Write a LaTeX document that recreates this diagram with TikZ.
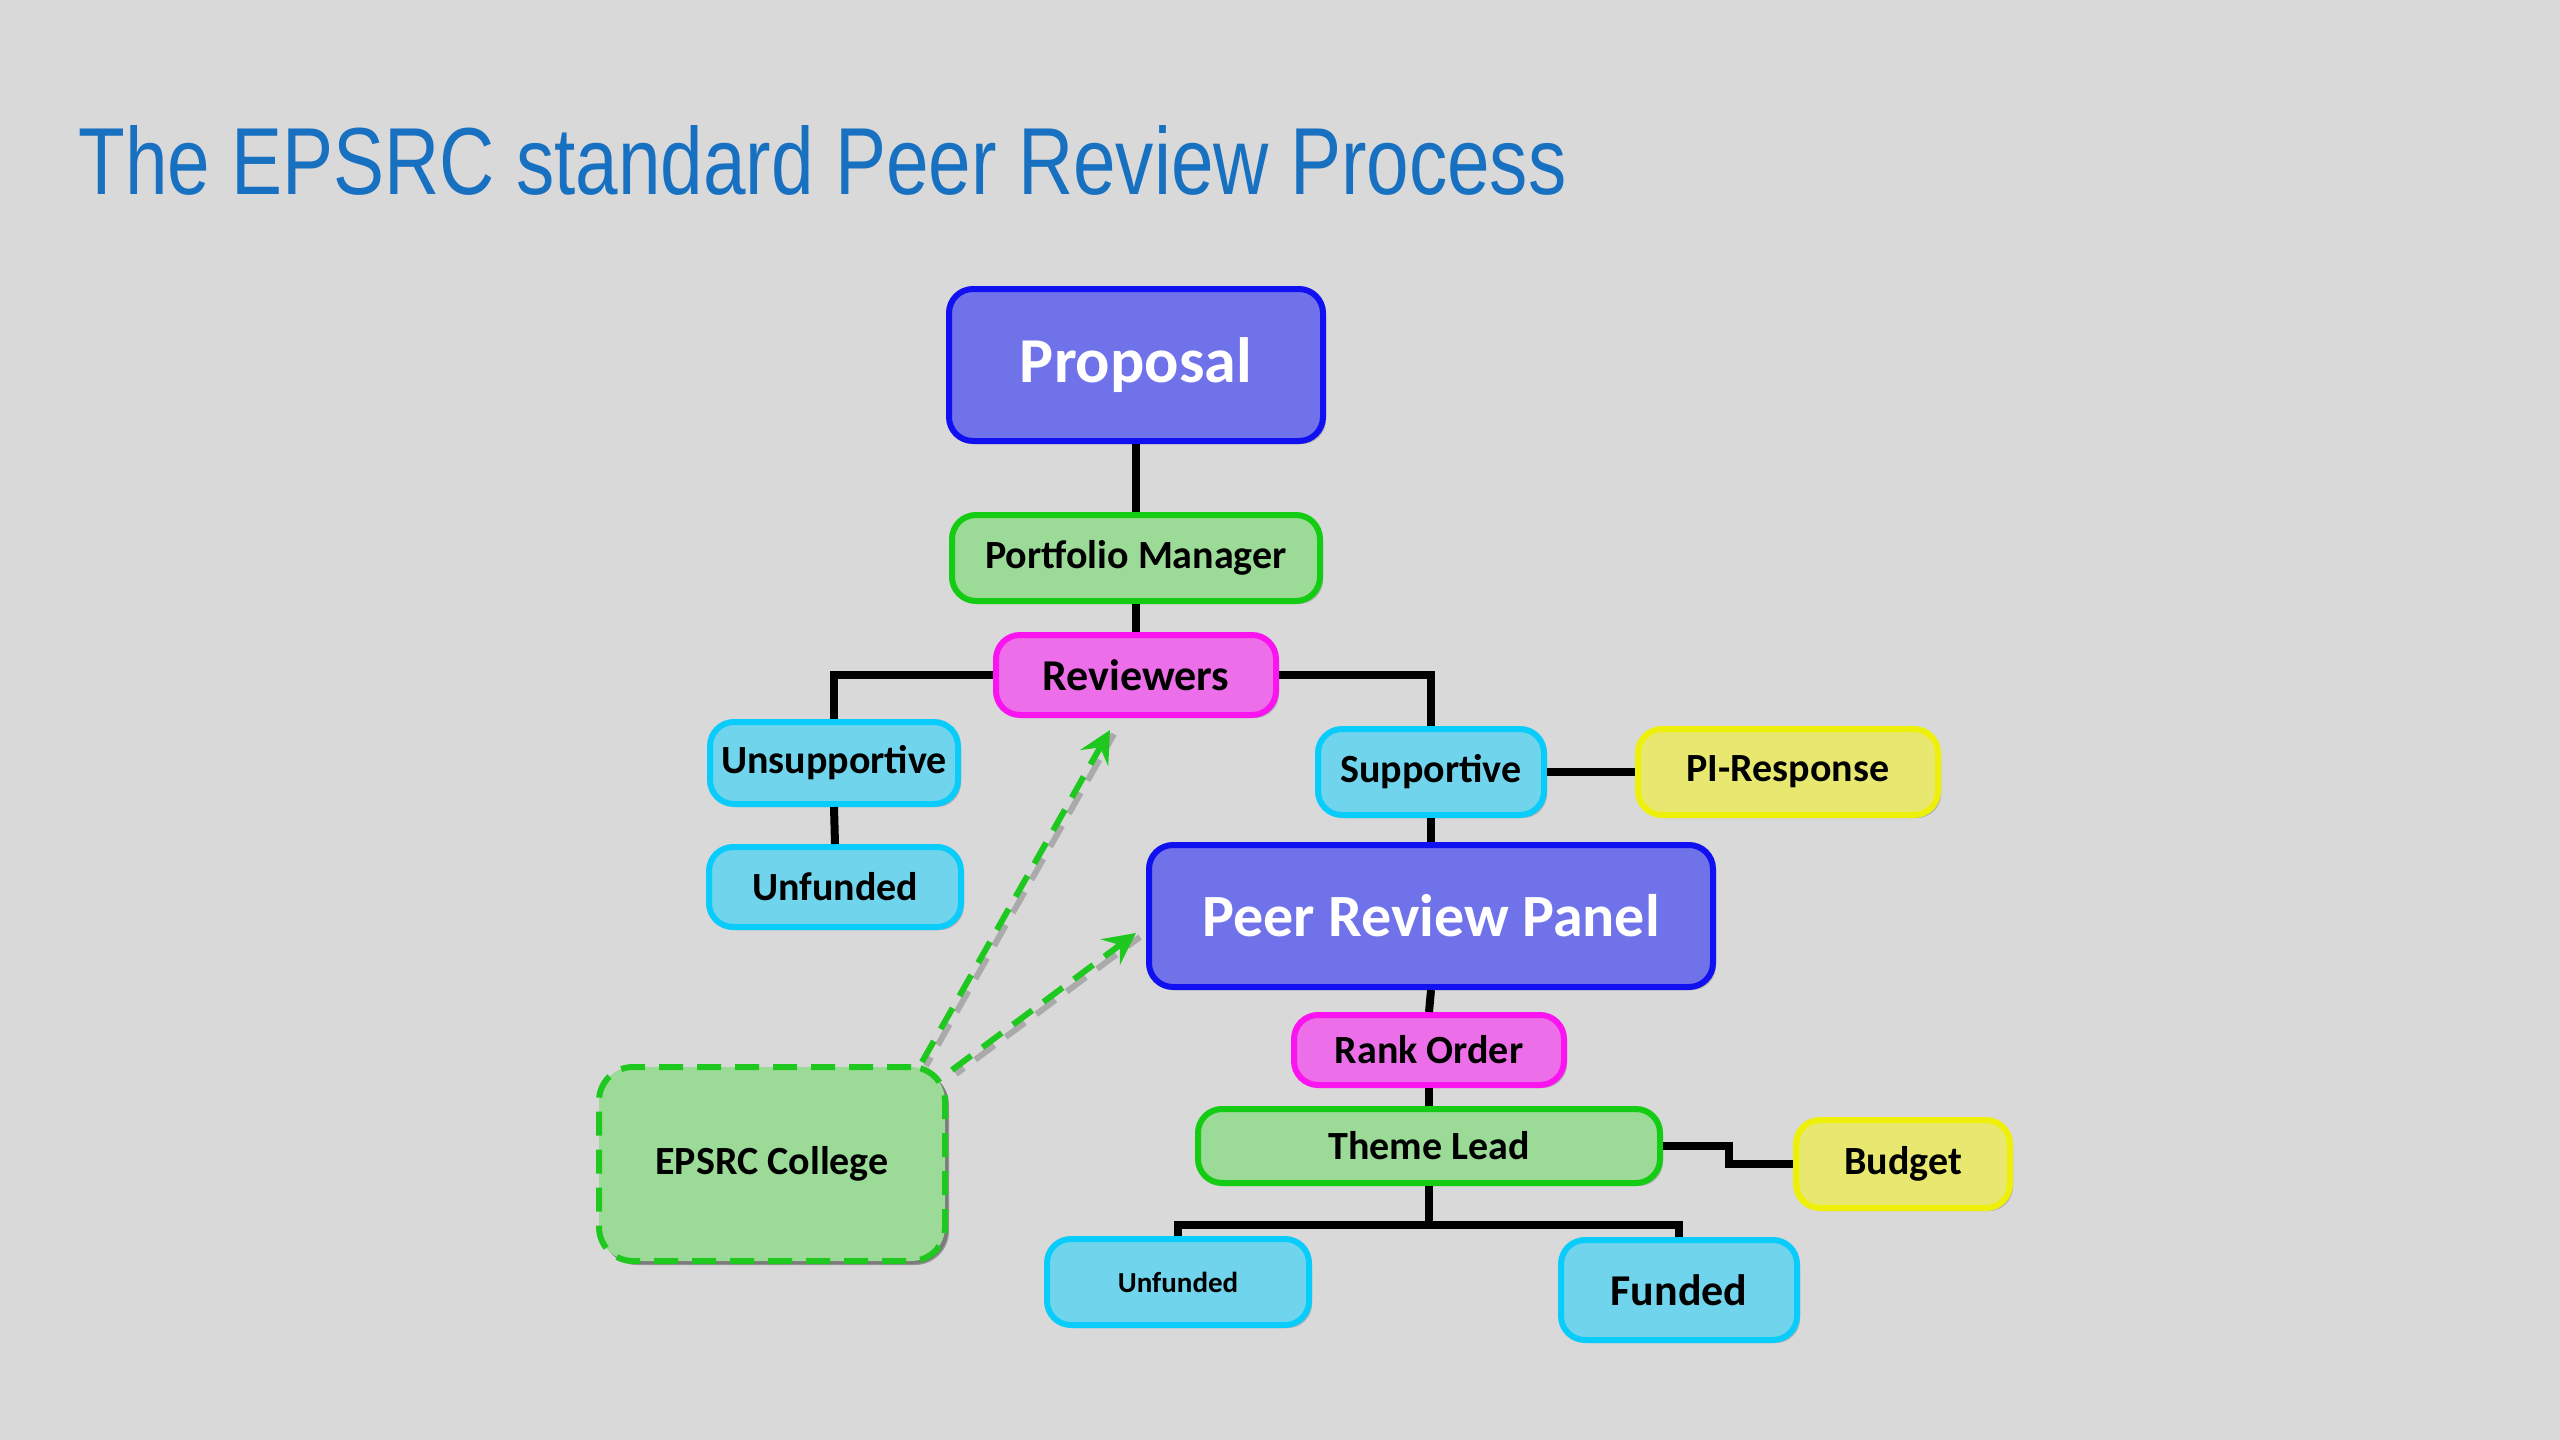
\documentclass[tikz,border=0pt]{standalone}
\usepackage{fontspec}
\setmainfont{Carlito}
\newfontfamily\titlefont{Liberation Sans}
\usetikzlibrary{calc,arrows.meta,shadows}
\definecolor{bg}{RGB}{217,217,217}
\definecolor{titleblue}{RGB}{24,112,192}
\definecolor{pfill}{RGB}{112,114,234}
\definecolor{pline}{RGB}{16,16,240}
\definecolor{gfill}{RGB}{156,218,152}
\definecolor{gline}{RGB}{20,204,20}
\definecolor{mfill}{RGB}{236,110,232}
\definecolor{mline}{RGB}{250,20,240}
\definecolor{cfill}{RGB}{112,212,236}
\definecolor{cline}{RGB}{10,204,250}
\definecolor{yfill}{RGB}{232,232,112}
\definecolor{yline}{RGB}{238,240,10}
\definecolor{dgreen}{RGB}{30,200,30}
\tikzset{
  box/.style={draw, line width=3pt, rounded corners=12pt, inner sep=0pt, align=center,
    font=\bfseries\fontsize{20pt}{24pt}\selectfont,
    drop shadow={shadow xshift=1.5pt, shadow yshift=-1.5pt, opacity=0.18, fill=black}},
  bluebox/.style={box, fill=pfill, draw=pline, text=white},
  greenbox/.style={box, fill=gfill, draw=gline},
  pinkbox/.style={box, fill=mfill, draw=mline},
  cyanbox/.style={box, fill=cfill, draw=cline},
  yellowbox/.style={box, fill=yfill, draw=yline},
  conn/.style={line width=4pt, black},
  dasharrow/.style={line width=3pt, dgreen, dash pattern=on 12pt off 7pt,
    -{Stealth[length=16pt, width=16pt, inset=6pt]}},
  dashshadow/.style={line width=3pt, black!45, opacity=0.6, dash pattern=on 12pt off 7pt, dash phase=7pt}
}
\begin{document}
\begin{tikzpicture}[x=0.5pt, y=-0.5pt]
\useasboundingbox (0,0) rectangle (2560,1440);
\fill[bg] (0,0) rectangle (2560,1440);

\node[anchor=base west, inner sep=0pt, text=titleblue] (title) at (78,194)
  {\resizebox{744pt}{34.5pt}{\titlefont The EPSRC standard Peer Review Process}};

% nodes
\node[bluebox, minimum width=187pt, minimum height=76pt, font=\bfseries\fontsize{32pt}{36pt}\selectfont] (prop) at (1136,365) {Proposal};
\node[greenbox, minimum width=184pt, minimum height=43pt] (pm) at (1136,558) {Portfolio Manager};
\node[pinkbox, minimum width=140pt, minimum height=40pt, font=\bfseries\fontsize{22pt}{26pt}\selectfont] (rev) at (1136,675) {Reviewers};
\node[cyanbox, minimum width=124pt, minimum height=41pt] (unsup) at (834,763) {Unsupportive};
\node[cyanbox, minimum width=126pt, minimum height=40pt] (unf1) at (835,887) {Unfunded};
\node[cyanbox, minimum width=113pt, minimum height=43pt] (sup) at (1431,772) {Supportive};
\node[yellowbox, minimum width=150pt, minimum height=43pt] (pir) at (1788,772) {PI-Response};
\node[bluebox, minimum width=282pt, minimum height=71pt, font=\bfseries\fontsize{30pt}{34pt}\selectfont] (prp) at (1431,916) {Peer Review Panel};
\node[pinkbox, minimum width=135pt, minimum height=35pt] (rank) at (1429,1050) {Rank Order};
\node[greenbox, minimum width=231pt, minimum height=37pt] (theme) at (1429,1146) {Theme Lead};
\node[yellowbox, minimum width=107pt, minimum height=44pt] (budget) at (1903,1164) {Budget};
\node[cyanbox, minimum width=131pt, minimum height=43pt, font=\bfseries\fontsize{14.5pt}{17pt}\selectfont] (unf2) at (1178,1282) {Unfunded};
\node[cyanbox, minimum width=118pt, minimum height=50pt, font=\bfseries\fontsize{22pt}{26pt}\selectfont] (funded) at (1679,1290) {Funded};
\node[box, fill=gfill, draw=dgreen, dash pattern=on 12pt off 7pt, rounded corners=17pt,
  minimum width=173pt, minimum height=97pt,
  drop shadow={shadow xshift=2pt, shadow yshift=-2pt, opacity=0.3, fill=black}] (col) at (772,1164) {EPSRC College};

% connectors
\draw[conn] (prop.south) -- (pm.north);
\draw[conn] (pm.south) -- (rev.north);
\draw[conn] (rev.west) -| (unsup.north);
\draw[conn] (rev.east) -| (sup.north);
\draw[conn] (unsup.south) -- (unf1.north);
\draw[conn] (sup.east) -- (pir.west);
\draw[conn] (sup.south) -- (prp.north);
\draw[conn] (prp.south) -- (rank.north);
\draw[conn] (rank.south) -- (theme.north);
\coordinate (tb) at ($(theme.east)+(66,0)$);
\draw[conn] (theme.east) -- (tb) |- (budget.west);
\coordinate (tj) at ($(theme.south)+(0,39)$);
\draw[conn] (theme.south) -- (tj);
\draw[conn] (unf2.north) |- (tj) -| (funded.north);

% dashed arrows
\coordinate (s1) at ($(col.north east)+(-26,-2)$);
\coordinate (e1) at ($(rev.south)+(-26,12)$);
\coordinate (s2) at ($(col.north east)+(4,6)$);
\coordinate (e2) at ($(prp.west)+(-10,17)$);
\draw[dashshadow] ($(s1)+(4,4)$) -- ($(e1)+(4,4)$);
\draw[dashshadow] ($(s2)+(4,4)$) -- ($(e2)+(4,4)$);
\draw[dasharrow] (s1) -- (e1);
\draw[dasharrow] (s2) -- (e2);
\end{tikzpicture}
\end{document}
